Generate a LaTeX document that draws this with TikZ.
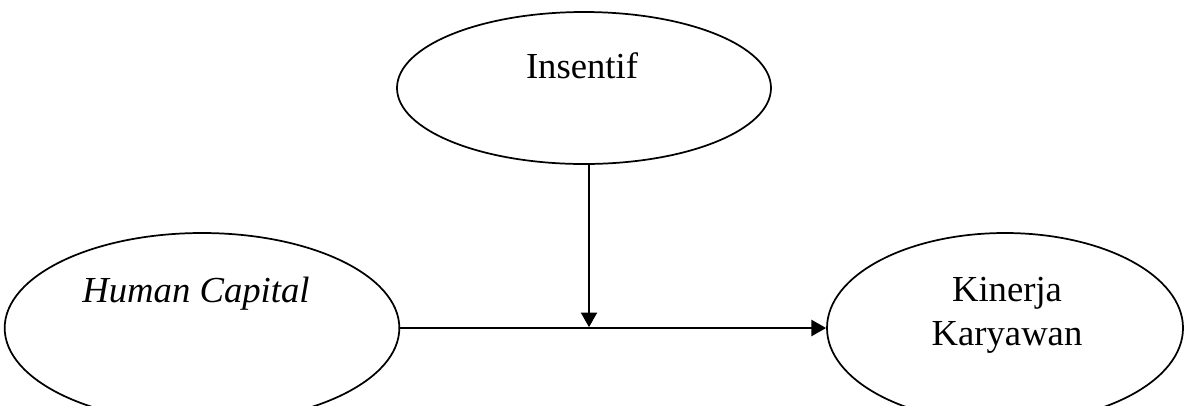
\documentclass[tikz,border=0pt]{standalone}
\usepackage{fontspec}
\setmainfont{Liberation Serif}
\usetikzlibrary{shapes.geometric,arrows.meta}
\begin{document}
\begin{tikzpicture}[x=0.75pt,y=-0.75pt,
  var/.style={draw,ellipse,line width=1.3pt,inner sep=0pt},
  lbl/.style={font=\fontsize{27.5}{32.5}\selectfont,align=center,inner sep=0pt,anchor=base},
  link/.style={line width=1.6pt,-{Triangle[length=11pt,width=12pt]}}]
\useasboundingbox (0,0) rectangle (1187,405);
\clip (0,0) rectangle (1187,405);
% variables
\node[var,minimum width=280.5pt,minimum height=114pt] (ins) at (584,88) {};
\node[var,minimum width=296pt,minimum height=142.5pt] (hc) at (202,328) {};
\node[var,minimum width=267pt,minimum height=142.5pt] (kk) at (1005,328) {};
% labels (base anchor sits on the last line's baseline)
\node[lbl] (insT) at (582,78) {Insentif};
\node[lbl] (hcT) at (196,302) {\itshape Human Capital};
\node[lbl] (kkT) at (1007,345) {Kinerja\\Karyawan};
% paths
\coordinate (m) at (589,328);
\draw[link] (hc.east) -- (kk.west);
\draw[link] (m |- ins.south) -- ([yshift=0.6pt]m);
\end{tikzpicture}
\end{document}
